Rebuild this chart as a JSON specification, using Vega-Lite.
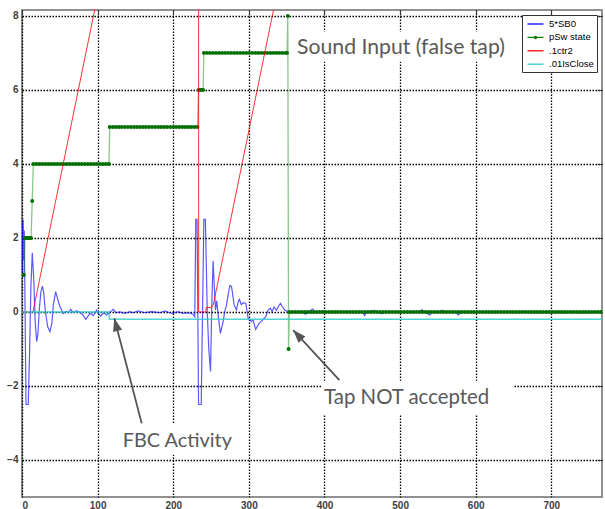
{
  "$schema": "https://vega.github.io/schema/vega-lite/v6.json",
  "width": 580,
  "height": 487,
  "autosize": "none",
  "padding": {"left": 22, "top": 10, "right": 3, "bottom": 12},
  "background": "white",
  "config": {
    "view": {"stroke": "#6e6e6e", "strokeWidth": 1.5},
    "axis": {"labelFont": "Liberation Sans", "labelFontSize": 10, "labelColor": "#404040", "labelFontWeight": "bold", "domain": false, "gridColor": "#000000", "gridOpacity": 1, "gridDash": [1.5, 1.5], "gridWidth": 1.3, "ticks": false, "title": null},
    "legend": {"orient": "none", "legendX": 500, "legendY": 5, "direction": "vertical", "title": null, "symbolType": "M-1.6,0L1.6,0", "symbolSize": 100, "symbolOffset": 4.5, "symbolStrokeWidth": 1.3, "labelFont": "Liberation Sans", "labelFontSize": 9.5, "labelColor": "#000000", "strokeColor": "#333333", "fillColor": "#ffffff", "padding": 3, "rowPadding": 2.4, "labelOffset": 7.5}
  },
  "datasets": {
    "blue": [
      {"x":0,"v":2.5},{"x":0.7,"v":1.0},{"x":1.5,"v":2.5},{"x":2.3,"v":1.4},{"x":3,"v":2.2},{"x":5.3,"v":-2.5},{"x":8.3,"v":-2.5},{"x":10,"v":-1.1},{"x":11.8,"v":0.7},{"x":13.6,"v":1.6},{"x":15.5,"v":0.9},{"x":17.5,"v":-0.3},{"x":19.4,"v":-0.8},{"x":21,"v":-0.6},{"x":23,"v":0.1},{"x":25,"v":0.55},{"x":26.9,"v":0.7},{"x":28.5,"v":0.55},{"x":31,"v":0.0},{"x":34,"v":-0.4},{"x":37,"v":-0.53},{"x":39.5,"v":-0.3},{"x":41.5,"v":0.2},{"x":44.5,"v":0.55},{"x":46.5,"v":0.4},{"x":48.5,"v":0.25},{"x":50.3,"v":0.14},{"x":52.5,"v":0.05},{"x":54.6,"v":-0.04},{"x":57,"v":0.0},{"x":59,"v":0.02},{"x":61.5,"v":-0.02},{"x":64.4,"v":0.07},{"x":67,"v":0.0},{"x":69.6,"v":0.01},{"x":72.5,"v":0.03},{"x":76,"v":0.0},{"x":80.6,"v":-0.08},{"x":84.5,"v":-0.2},{"x":87,"v":-0.12},{"x":89.8,"v":-0.04},{"x":92,"v":-0.06},{"x":94.2,"v":-0.1},{"x":98.7,"v":0.05},{"x":100.8,"v":-0.04},{"x":104,"v":-0.11},{"x":108.3,"v":-0.02},{"x":111.9,"v":-0.08},{"x":116.2,"v":-0.01},{"x":120.6,"v":0.07},{"x":124.2,"v":-0.02},{"x":129.5,"v":0},{"x":136,"v":-0.04},{"x":142.7,"v":0.01},{"x":147,"v":-0.02},{"x":153.6,"v":0.03},{"x":162.5,"v":-0.02},{"x":171.3,"v":0.01},{"x":182.3,"v":-0.02},{"x":189,"v":0.03},{"x":197.8,"v":-0.04},{"x":206.5,"v":0.01},{"x":213,"v":-0.04},{"x":219.7,"v":-0.02},{"x":226.3,"v":-0.06},{"x":228.5,"v":-0.13},{"x":229.8,"v":2.5},{"x":231.5,"v":2.5},{"x":233.5,"v":-2.5},{"x":237,"v":-2.5},{"x":240.5,"v":2.5},{"x":242.5,"v":2.5},{"x":245,"v":0.0},{"x":247,"v":-1.0},{"x":249.3,"v":-1.61},{"x":251,"v":0.2},{"x":252.7,"v":1.38},{"x":254.3,"v":0.7},{"x":255.9,"v":0.05},{"x":257.5,"v":0.3},{"x":259.5,"v":-0.1},{"x":262.4,"v":-0.58},{"x":266,"v":-0.26},{"x":268,"v":0.0},{"x":270.4,"v":0.19},{"x":272.5,"v":0.45},{"x":274.8,"v":0.71},{"x":277,"v":0.69},{"x":278.8,"v":0.45},{"x":280.5,"v":0.19},{"x":283.6,"v":0.05},{"x":285.5,"v":0.25},{"x":287.5,"v":0.34},{"x":290,"v":0.2},{"x":292.5,"v":0.25},{"x":296,"v":0.23},{"x":299,"v":-0.17},{"x":301,"v":-0.2},{"x":303.4,"v":-0.26},{"x":305.6,"v":-0.22},{"x":309,"v":-0.47},{"x":313.5,"v":-0.31},{"x":318,"v":-0.22},{"x":322.3,"v":-0.13},{"x":325.4,"v":0.05},{"x":328.5,"v":0.1},{"x":330.7,"v":0.01},{"x":333.3,"v":0.13},{"x":336.5,"v":0.05},{"x":339.5,"v":0.16},{"x":341.7,"v":0.23},{"x":344.4,"v":0.14},{"x":347.4,"v":0.05},{"x":351.8,"v":0.01},{"x":360,"v":0},{"x":370,"v":0},{"x":375,"v":-0.06},{"x":379,"v":0},{"x":384,"v":0.08},{"x":388,"v":0},{"x":400,"v":0.02},{"x":415,"v":0},{"x":430,"v":0.01},{"x":450,"v":0},{"x":453,"v":-0.1},{"x":456,"v":0},{"x":466,"v":0.04},{"x":470,"v":0},{"x":476,"v":-0.05},{"x":480,"v":0},{"x":525,"v":0},{"x":529,"v":0.06},{"x":533,"v":0},{"x":539,"v":-0.08},{"x":543,"v":0},{"x":552,"v":0},{"x":556,"v":0.05},{"x":560,"v":0},{"x":573,"v":0},{"x":577,"v":-0.08},{"x":581,"v":0},{"x":767,"v":0}
    ],
    "green": [
      {"x":0.5,"v":1},{"x":2.5,"v":1},{"x":4,"v":2},{"x":6,"v":2},{"x":8,"v":2},{"x":10,"v":2},{"x":12,"v":2},{"x":13.5,"v":3},
      {"x":15,"v":4},{"x":19,"v":4},{"x":23,"v":4},{"x":27,"v":4},{"x":31,"v":4},{"x":35,"v":4},{"x":39,"v":4},{"x":43,"v":4},{"x":47,"v":4},{"x":51,"v":4},{"x":55,"v":4},{"x":59,"v":4},{"x":63,"v":4},{"x":67,"v":4},{"x":71,"v":4},{"x":75,"v":4},{"x":79,"v":4},{"x":83,"v":4},{"x":87,"v":4},{"x":91,"v":4},{"x":95,"v":4},{"x":99,"v":4},{"x":103,"v":4},{"x":107,"v":4},{"x":111,"v":4},{"x":115,"v":4},
      {"x":116,"v":5},{"x":120,"v":5},{"x":124,"v":5},{"x":128,"v":5},{"x":132,"v":5},{"x":136,"v":5},{"x":140,"v":5},{"x":144,"v":5},{"x":148,"v":5},{"x":152,"v":5},{"x":156,"v":5},{"x":160,"v":5},{"x":164,"v":5},{"x":168,"v":5},{"x":172,"v":5},{"x":176,"v":5},{"x":180,"v":5},{"x":184,"v":5},{"x":188,"v":5},{"x":192,"v":5},{"x":196,"v":5},{"x":200,"v":5},{"x":204,"v":5},{"x":208,"v":5},{"x":212,"v":5},{"x":216,"v":5},{"x":220,"v":5},{"x":224,"v":5},{"x":228,"v":5},{"x":232,"v":5},
      {"x":233.5,"v":6},{"x":235.5,"v":6},{"x":237.5,"v":6},{"x":239.5,"v":6},
      {"x":240.5,"v":7},{"x":244.5,"v":7},{"x":248.5,"v":7},{"x":252.5,"v":7},{"x":256.5,"v":7},{"x":260.5,"v":7},{"x":264.5,"v":7},{"x":268.5,"v":7},{"x":272.5,"v":7},{"x":276.5,"v":7},{"x":280.5,"v":7},{"x":284.5,"v":7},{"x":288.5,"v":7},{"x":292.5,"v":7},{"x":296.5,"v":7},{"x":300.5,"v":7},{"x":304.5,"v":7},{"x":308.5,"v":7},{"x":312.5,"v":7},{"x":316.5,"v":7},{"x":320.5,"v":7},{"x":324.5,"v":7},{"x":328.5,"v":7},{"x":332.5,"v":7},{"x":336.5,"v":7},{"x":340.5,"v":7},{"x":344.5,"v":7},{"x":348.5,"v":7},{"x":350.5,"v":7},
      {"x":351.5,"v":8},{"x":352.5,"v":-1},
      {"x":353.5,"v":0},{"x":357.5,"v":0},{"x":361.5,"v":0},{"x":365.5,"v":0},{"x":369.5,"v":0},{"x":373.5,"v":0},{"x":377.5,"v":0},{"x":381.5,"v":0},{"x":385.5,"v":0},{"x":389.5,"v":0},{"x":393.5,"v":0},{"x":397.5,"v":0},{"x":401.5,"v":0},{"x":405.5,"v":0},{"x":409.5,"v":0},{"x":413.5,"v":0},{"x":417.5,"v":0},{"x":421.5,"v":0},{"x":425.5,"v":0},{"x":429.5,"v":0},{"x":433.5,"v":0},{"x":437.5,"v":0},{"x":441.5,"v":0},{"x":445.5,"v":0},{"x":449.5,"v":0},{"x":453.5,"v":0},{"x":457.5,"v":0},{"x":461.5,"v":0},{"x":465.5,"v":0},{"x":469.5,"v":0},{"x":473.5,"v":0},{"x":477.5,"v":0},{"x":481.5,"v":0},{"x":485.5,"v":0},{"x":489.5,"v":0},{"x":493.5,"v":0},{"x":497.5,"v":0},{"x":501.5,"v":0},{"x":505.5,"v":0},{"x":509.5,"v":0},{"x":513.5,"v":0},{"x":517.5,"v":0},{"x":521.5,"v":0},{"x":525.5,"v":0},{"x":529.5,"v":0},{"x":533.5,"v":0},{"x":537.5,"v":0},{"x":541.5,"v":0},{"x":545.5,"v":0},{"x":549.5,"v":0},{"x":553.5,"v":0},{"x":557.5,"v":0},{"x":561.5,"v":0},{"x":565.5,"v":0},{"x":569.5,"v":0},{"x":573.5,"v":0},{"x":577.5,"v":0},{"x":581.5,"v":0},{"x":585.5,"v":0},{"x":589.5,"v":0},{"x":593.5,"v":0},{"x":597.5,"v":0},{"x":601.5,"v":0},{"x":605.5,"v":0},{"x":609.5,"v":0},{"x":613.5,"v":0},{"x":617.5,"v":0},{"x":621.5,"v":0},{"x":625.5,"v":0},{"x":629.5,"v":0},{"x":633.5,"v":0},{"x":637.5,"v":0},{"x":641.5,"v":0},{"x":645.5,"v":0},{"x":649.5,"v":0},{"x":653.5,"v":0},{"x":657.5,"v":0},{"x":661.5,"v":0},{"x":665.5,"v":0},{"x":669.5,"v":0},{"x":673.5,"v":0},{"x":677.5,"v":0},{"x":681.5,"v":0},{"x":685.5,"v":0},{"x":689.5,"v":0},{"x":693.5,"v":0},{"x":697.5,"v":0},{"x":701.5,"v":0},{"x":705.5,"v":0},{"x":709.5,"v":0},{"x":713.5,"v":0},{"x":717.5,"v":0},{"x":721.5,"v":0},{"x":725.5,"v":0},{"x":729.5,"v":0},{"x":733.5,"v":0},{"x":737.5,"v":0},{"x":741.5,"v":0},{"x":745.5,"v":0},{"x":749.5,"v":0},{"x":753.5,"v":0},{"x":757.5,"v":0},{"x":761.5,"v":0},{"x":765.5,"v":0},{"x":767,"v":0}
    ],
    "red": [
      {"i":0,"x":0,"v":0},{"i":1,"x":14.5,"v":0},{"i":2,"x":233.5,"v":21.9},{"i":3,"x":233.6,"v":0},{"i":4,"x":243.2,"v":0},{"i":5,"x":243.6,"v":0.12},{"i":6,"x":250.5,"v":0.12},{"i":7,"x":253,"v":0.2},{"i":8,"x":360,"v":10.9}
    ],
    "cyan": [
      {"x":0,"v":0},{"x":115.3,"v":0},{"x":115.6,"v":-0.2},{"x":767,"v":-0.2}
    ],
    "boxes": [
      {"x1":354.5,"x2":645.5,"y1":7.57,"y2":6.76},
      {"x1":127,"x2":281.7,"y1":-3.03,"y2":-3.86},
      {"x1":396.8,"x2":650.8,"y1":-1.86,"y2":-2.76}
    ],
    "texts": [
      {"x":363.8,"y":6.97,"t":"Sound Input (false tap)"},
      {"x":133.2,"y":-3.64,"t":"FBC Activity"},
      {"x":399.5,"y":-2.49,"t":"Tap NOT accepted"}
    ],
    "arrows": [
      {"id":"fbc","x":158.3,"y":-3.01,"x2":122.1,"y2":-0.17},
      {"id":"tap","x":419.7,"y":-1.84,"x2":358.6,"y2":-0.49}
    ]
  },
  "resolve": {"axis": {"x": "independent", "y": "independent"}},
  "layer": [
    {
      "data": {"name": "boxes"},
      "mark": {"type": "rect", "fill": "white", "stroke": null},
      "encoding": {
        "x": {"field": "x1", "type": "quantitative", "scale": {"domain": [0, 767], "nice": false, "zero": false}, "axis": {"orient": "bottom", "values": [0,100,200,300,400,500,600,700], "grid": true, "labelPadding": 3}},
        "x2": {"field": "x2"},
        "y": {"field": "y1", "type": "quantitative", "scale": {"domain": [-5, 8.16], "nice": false, "zero": false}, "axis": {"orient": "left", "values": [-4,-2,0,2,4,6,8], "grid": true, "labelPadding": 4}},
        "y2": {"field": "y2"}
      }
    },
    {
      "data": {"name": "blue"},
      "mark": {"type": "line", "clip": true, "strokeWidth": 1.2, "strokeOpacity": 0.65},
      "encoding": {
        "x": {"field": "x", "type": "quantitative", "axis": null},
        "y": {"field": "v", "type": "quantitative", "axis": null},
        "color": {"datum": "5*SB0", "type": "nominal", "scale": {"domain": ["5*SB0", "pSw state", ".1ctr2", ".01IsClose"], "range": ["#0000ff", "#008000", "#ff0000", "#33cccc"]}, "legend": {"encode": {"symbols": {"update": {"shape": {"signal": "datum.value === 'pSw state' ? 'M-1.6,0L1.6,0M-0.22,0A0.22,0.22,0,1,1,0.22,0A0.22,0.22,0,1,1,-0.22,0' : 'M-1.6,0L1.6,0'"}}}}}}
      }
    },
    {
      "data": {"name": "green"},
      "mark": {"type": "line", "clip": true, "strokeWidth": 1.3, "strokeOpacity": 0.45},
      "encoding": {
        "x": {"field": "x", "type": "quantitative", "axis": null},
        "y": {"field": "v", "type": "quantitative", "axis": null},
        "color": {"datum": "pSw state", "type": "nominal"}
      }
    },
    {
      "data": {"name": "green"},
      "mark": {"type": "point", "clip": true, "filled": true, "color": "#006f00", "size": 15, "opacity": 1},
      "encoding": {
        "x": {"field": "x", "type": "quantitative", "axis": null},
        "y": {"field": "v", "type": "quantitative", "axis": null}
      }
    },
    {
      "data": {"name": "red"},
      "mark": {"type": "line", "clip": true, "strokeWidth": 1, "strokeOpacity": 0.8},
      "encoding": {
        "x": {"field": "x", "type": "quantitative", "axis": null},
        "y": {"field": "v", "type": "quantitative", "axis": null},
        "order": {"field": "i", "type": "quantitative"},
        "color": {"datum": ".1ctr2", "type": "nominal"}
      }
    },
    {
      "data": {"name": "cyan"},
      "mark": {"type": "line", "clip": true, "strokeWidth": 1.5, "strokeOpacity": 0.85},
      "encoding": {
        "x": {"field": "x", "type": "quantitative", "axis": {"orient": "top", "values": [0,100,200,300,400,500,600,700], "labels": false, "grid": false, "ticks": true, "tickSize": -5, "tickColor": "#333333", "tickWidth": 1}},
        "y": {"field": "v", "type": "quantitative", "axis": {"orient": "right", "values": [-4,-2,0,2,4,6,8], "labels": false, "grid": false, "ticks": true, "tickSize": -5, "tickColor": "#333333", "tickWidth": 1}},
        "color": {"datum": ".01IsClose", "type": "nominal"}
      }
    },
    {
      "data": {"name": "arrows"},
      "mark": {"type": "rule", "color": "#555555", "strokeWidth": 1.8},
      "encoding": {
        "x": {"field": "x", "type": "quantitative", "axis": null},
        "y": {"field": "y", "type": "quantitative", "axis": null},
        "x2": {"field": "x2"},
        "y2": {"field": "y2"}
      }
    },
    {
      "data": {"name": "arrows"},
      "transform": [{"filter": "datum.id === 'fbc'"}],
      "mark": {"type": "point", "filled": true, "color": "#555555", "opacity": 1, "size": 676, "angle": 345.4, "shape": "M0,0L-0.36,1L0.36,1Z"},
      "encoding": {
        "x": {"field": "x2", "type": "quantitative", "axis": null},
        "y": {"field": "y2", "type": "quantitative", "axis": null}
      }
    },
    {
      "data": {"name": "arrows"},
      "transform": [{"filter": "datum.id === 'tap'"}],
      "mark": {"type": "point", "filled": true, "color": "#555555", "opacity": 1, "size": 676, "angle": 317.4, "shape": "M0,0L-0.36,1L0.36,1Z"},
      "encoding": {
        "x": {"field": "x2", "type": "quantitative", "axis": null},
        "y": {"field": "y2", "type": "quantitative", "axis": null}
      }
    },
    {
      "data": {"name": "texts"},
      "transform": [{"filter": "datum.t === 'Sound Input (false tap)'"}],
      "mark": {"type": "text", "align": "left", "baseline": "alphabetic", "font": "Lato", "fontSize": 21.2, "color": "#595959"},
      "encoding": {
        "x": {"field": "x", "type": "quantitative", "axis": null},
        "y": {"field": "y", "type": "quantitative", "axis": null},
        "text": {"field": "t"}
      }
    },
    {
      "data": {"name": "texts"},
      "transform": [{"filter": "datum.t === 'Tap NOT accepted'"}],
      "mark": {"type": "text", "align": "left", "baseline": "alphabetic", "font": "Lato", "fontSize": 20.4, "color": "#595959"},
      "encoding": {
        "x": {"field": "x", "type": "quantitative", "axis": null},
        "y": {"field": "y", "type": "quantitative", "axis": null},
        "text": {"field": "t"}
      }
    },
    {
      "data": {"name": "texts"},
      "transform": [{"filter": "datum.t === 'FBC Activity'"}],
      "mark": {"type": "text", "align": "left", "baseline": "alphabetic", "font": "Lato", "fontSize": 19.9, "color": "#595959"},
      "encoding": {
        "x": {"field": "x", "type": "quantitative", "axis": null},
        "y": {"field": "y", "type": "quantitative", "axis": null},
        "text": {"field": "t"}
      }
    }
  ]
}
